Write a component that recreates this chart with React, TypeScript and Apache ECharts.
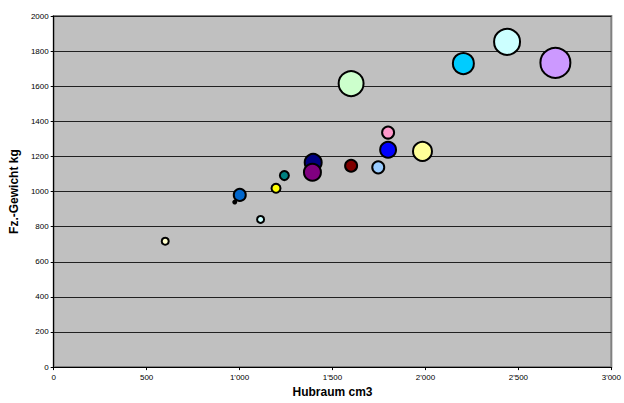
import React, { useEffect, useRef } from "react";
import * as echarts from "echarts";

// Hubraum (cm3)
const hubraum = [600, 1113, 974, 1001, 1196, 1241, 1396, 1392, 1600, 1746, 1799, 1799, 1984, 1600, 2204, 2439, 2699];
// Fahrzeug-Gewicht (kg)
const gewicht = [717, 841, 940, 981, 1019, 1091, 1166, 1110, 1147, 1138, 1336, 1238, 1229, 1615, 1729, 1853, 1733];
// Bubble value (relative size)
const bubbleWert = [5.4, 5.4, 1, 16, 9, 9, 32, 32, 16, 16, 16, 28, 40, 69, 49, 75, 100];
const farben = [
  "#FFFFCC", "#CCFFFF", "#000000", "#0066CC", "#FFFF00", "#008080", "#000080", "#800080",
  "#800000", "#99CCFF", "#FF99CC", "#0000FF", "#FFFF99", "#CCFFCC", "#00CCFF", "#CCFFFF", "#CC99FF",
];
const xTicks = [0, 500, 1000, 1500, 2000, 2500, 3000];
const xTickLabels = ["0", "500", "1'000", "1'500", "2'000", "2'500", "3'000"];
const yTicks = [0, 200, 400, 600, 800, 1000, 1200, 1400, 1600, 1800, 2000];

export default function App() {
  const ref = useRef<HTMLDivElement>(null);
  useEffect(() => {
    if (!ref.current) return;
    const chart = echarts.init(ref.current, null, { renderer: "svg" });
    const font = "Arial, 'Liberation Sans', sans-serif";
    const data = hubraum.map((x, i) => ({
      value: [x, gewicht[i], bubbleWert[i]],
      itemStyle: { color: farben[i], borderColor: "#000", borderWidth: 2, opacity: 1 },
    }));
    chart.setOption({
      animation: false,
      backgroundColor: "#fff",
      grid: {
        left: 50, right: 12, top: 16, bottom: 34,
        show: true, backgroundColor: "#C0C0C0", borderColor: "#808080", borderWidth: 2,
      },
      xAxis: {
        type: "value", min: 0, max: 3000, interval: 500,
        name: "Hubraum cm3", nameLocation: "middle", nameGap: 14,
        nameTextStyle: { fontFamily: font, fontWeight: "bold", fontSize: 12, color: "#000" },
        axisLine: { show: true, onZero: false, lineStyle: { color: "#000", width: 1 } },
        axisTick: { show: true, length: 3, lineStyle: { color: "#000" } },
        axisLabel: {
          fontFamily: font, fontSize: 8, color: "#000", margin: 6,
          formatter: (v: number) => {
            const i = xTicks.indexOf(v);
            return i >= 0 ? xTickLabels[i] : String(v);
          },
        },
        splitLine: { show: false },
      },
      yAxis: {
        type: "value", min: 0, max: 2000, interval: 200,
        name: "Fz.-Gewicht kg", nameLocation: "middle", nameGap: 28,
        nameTextStyle: { fontFamily: font, fontWeight: "bold", fontSize: 12, color: "#000" },
        axisLine: { show: true, onZero: false, lineStyle: { color: "#000", width: 1 } },
        axisTick: { show: true, length: 3, lineStyle: { color: "#000" } },
        axisLabel: {
          fontFamily: font, fontSize: 8, color: "#000", margin: 5,
          formatter: (v: number) => (yTicks.indexOf(v) >= 0 ? String(v) : ""),
        },
        splitLine: { show: true, lineStyle: { color: "#202020", width: 1 } },
      },
      series: [
        {
          type: "scatter",
          symbol: "circle",
          data,
          symbolSize: (val: number[]) => 3 * Math.sqrt(val[2]),
        },
      ],
    });
    return () => chart.dispose();
  }, []);
  return (
    <div
      ref={ref}
      style={{ position: "absolute", left: 0, top: 0, width: 624, height: 403 }}
    />
  );
}
